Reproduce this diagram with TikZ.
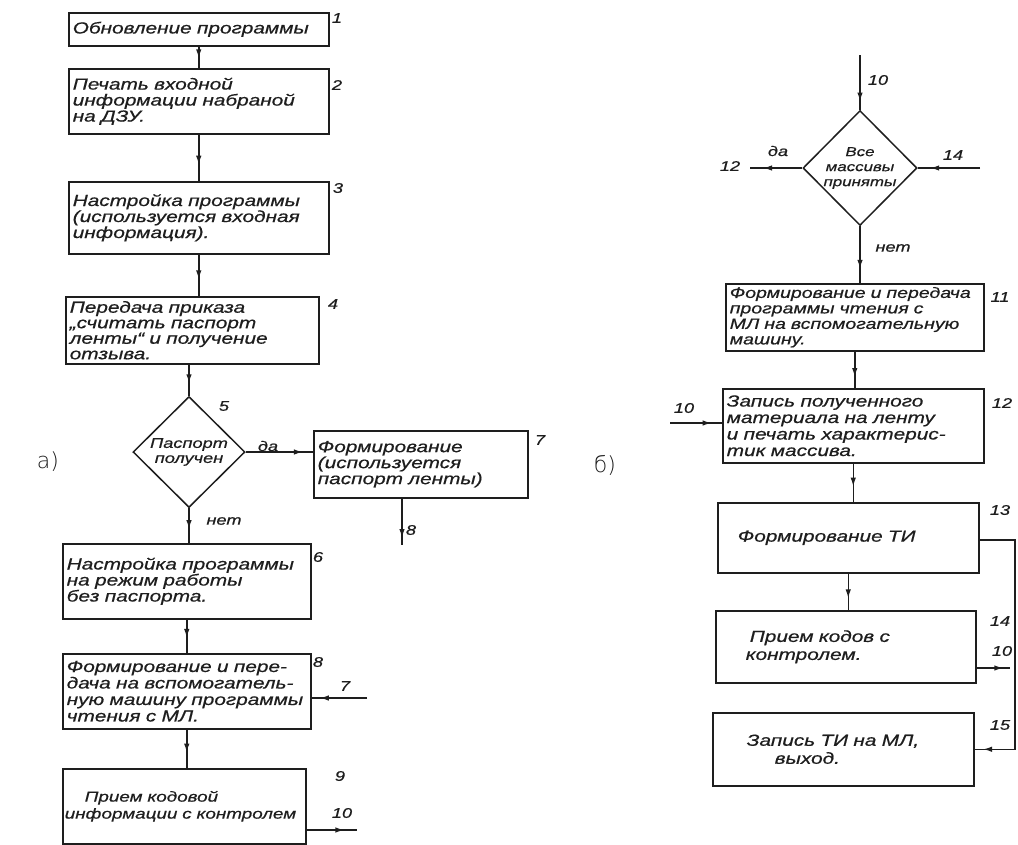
\documentclass[tikz,border=0pt]{standalone}
\usepackage{fontspec}
\newfontfamily\hw{Liberation Sans}[FakeStretch=1.3,FakeBold=0.6]
\newfontfamily\thin{DejaVu Sans ExtraLight}
\usetikzlibrary{shapes.geometric,arrows.meta,decorations.markings,calc}
\definecolor{ink}{HTML}{1E1E1E}
\tikzset{
  box/.style={draw=ink, text=ink, line width=1.5pt, anchor=north west, inner xsep=4pt, inner ysep=1pt,
    align=left, font=\hw\itshape\fontsize{16}{16}\selectfont},
  dia/.style={draw=ink, line width=1.5pt, diamond, inner sep=0pt},
  dtext/.style={text=ink, align=center, font=\hw\itshape\fontsize{14}{15}\selectfont},
  num/.style={text=ink, font=\hw\itshape\fontsize{14}{14}\selectfont, inner sep=0pt},
  con/.style={draw=ink, line width=1.5pt},
  ar/.style={postaction={decorate,decoration={markings,mark=at position #1 with {\arrow{Latex[length=9pt,width=5.5pt]}}}}},
  ar/.default=0.7,
}
\begin{document}
\begin{tikzpicture}[x=1pt,y=-1pt]
\useasboundingbox (0,0) rectangle (1018,844);
\fill[white] (0,0) rectangle (1018,844);

% ---------- left part a) ----------
\node[box, text width=252pt, minimum height=33pt] (b1) at (68,12) {Обновление программы};
\node[box, text width=252pt, minimum height=65pt] (b2) at (68,68) {Печать входной\\информации набраной\\на ДЗУ.};
\node[box, text width=252pt, minimum height=72pt] (b3) at (68,181) {Настройка программы\\(используется входная\\информация).};
\node[box, text width=245pt, minimum height=67pt, font=\hw\itshape\fontsize{16}{15.5}\selectfont] (b4) at (65,296) {Передача приказа\\„считать паспорт\\ленты“ и получение\\отзыва.};
\node[dia, minimum width=112pt, minimum height=111pt,
      label={[dtext]center:Паспорт\\получен}] (d5) at (189,452) {};
\node[box, text width=206pt, minimum height=67pt] (b7) at (313,430) {Формирование\\(используется\\паспорт ленты)};
\node[box, text width=240pt, minimum height=75pt] (b6) at (62,543) {Настройка программы\\на режим работы\\без паспорта.};
\node[box, text width=240pt, minimum height=75pt, font=\hw\itshape\fontsize{16}{16.5}\selectfont] (b8) at (62,653) {Формирование и пере-\\дача на вспомогатель-\\ную машину программы\\чтения с МЛ.};
\node[box, text width=239pt, inner xsep=2pt, minimum height=75pt, font=\hw\itshape\fontsize{14.5}{17}\selectfont] (b9) at (62,768) {\hspace*{20pt}Прием кодовой\\информации с контролем};

\draw[con,ar=0.55] (b1.south) -- (b1.south |- b2.north);
\draw[con,ar=0.65] (b2.south) -- (b2.south |- b3.north);
\draw[con,ar=0.6] (b3.south) -- (b3.south |- b4.north);
\draw[con,ar=0.6] (d5.north |- b4.south) -- (d5.north);
\draw[con,ar=0.85] (d5.east) -- (d5.east -| b7.west);
\draw[con,ar=0.6] (d5.south) -- (d5.south |- b6.north);
\draw[con,ar=0.55] (b6.south) -- (b6.south |- b8.north);
\draw[con,ar=0.6] (b8.south) -- (b8.south |- b9.north);
\coordinate (o7) at (402,545);
\draw[con,ar=0.85] (o7 |- b7.south) -- (o7);
\coordinate (i8) at (367,698);
\draw[con,ar=0.85] (i8) -- (i8 -| b8.east);
\coordinate (o9) at (357,830);
\draw[con,ar=0.75] (o9 -| b9.east) -- (o9);

\node[num] (n1) at (337,18) {1};
\node[num] (n2) at (337,85) {2};
\node[num] (n3) at (338,188) {3};
\node[num] (n4) at (333,304) {4};
\node[num] (n5) at (224,406) {5};
\node[num] (nda1) at (268,446) {да};
\node[num] (nnet1) at (224,521) {нет};
\node[num] (n7) at (540,440) {7};
\node[num] (n8a) at (411,530) {8};
\node[num] (n6) at (318,557) {6};
\node[num] (n8) at (318,662) {8};
\node[num] (n7b) at (345,686) {7};
\node[num] (n9) at (340,776) {9};
\node[num] (n10a) at (342,813) {10};
\node[text=ink, font=\thin\fontsize{22}{22}\selectfont] (la) at (48,462) {а)};

% ---------- right part б) ----------
\node[dia, minimum width=114pt, minimum height=115pt,
      label={[dtext,font=\hw\itshape\fontsize{13}{15}\selectfont]center:Все\\массивы\\приняты}] (d10) at (860,168) {};
\node[box, text width=250pt, minimum height=67pt, font=\hw\itshape\fontsize{15}{15.5}\selectfont] (b11) at (725,283) {Формирование и передача\\программы чтения с\\МЛ на вспомогательную\\машину.};
\node[box, text width=253pt, minimum height=74pt, font=\hw\itshape\fontsize{16}{16.5}\selectfont] (b12) at (722,388) {Запись полученного\\материала на ленту\\и печать характерис-\\тик массива.};
\node[box, text width=253pt, minimum height=70pt] (b13) at (717,502) {\hspace*{16pt}Формирование ТИ};
\node[box, text width=252pt, minimum height=72pt, font=\hw\itshape\fontsize{16}{18}\selectfont] (b14) at (715,610) {\hspace*{30pt}Прием кодов с\\\hspace*{26pt}контролем.};
\node[box, text width=253pt, minimum height=73pt, font=\hw\itshape\fontsize{16}{18}\selectfont] (b15) at (712,712) {\hspace*{30pt}Запись ТИ на МЛ,\\\hspace*{58pt}выход.};

\coordinate (i10) at (862,55);
\draw[con,ar=0.85] (i10 -| d10.north) -- (d10.north);
\coordinate (o12) at (750,165);
\draw[con,ar=0.75] (d10.west) -- (o12 |- d10.west);
\coordinate (i14) at (980,168);
\draw[con,ar=0.8] (i14) -- (d10.east);
\draw[con,ar=0.75] (d10.south) -- (d10.south |- b11.north);
\draw[con,ar=0.7] (b11.south) -- (b11.south |- b12.north);
\coordinate (i12) at (670,423);
\draw[con,ar=0.8] (i12) -- (i12 -| b12.west);
\draw[con,ar=0.6] (b12.south) -- (b12.south |- b13.north);
\draw[con,ar=0.68] (b13.south) -- (b13.south |- b14.north);
\coordinate (o14) at (1010,668);
\draw[con,ar=0.8] (o14 -| b14.east) -- (o14);
\coordinate (r1) at (1015,540);
\draw[con,ar=0.97] (r1 -| b13.east) -- (r1) -- (r1 |- b15.east) -- (b15.east);

\node[num] (n10b) at (878,80) {10};
\node[num] (nda2) at (778,151) {да};
\node[num] (n12a) at (730,166) {12};
\node[num] (n14a) at (953,155) {14};
\node[num] (nnet2) at (893,248) {нет};
\node[num] (n11) at (1000,297) {11};
\node[num] (n12) at (1002,403) {12};
\node[num] (n10c) at (684,408) {10};
\node[num] (n13) at (1000,510) {13};
\node[num] (n14) at (1000,621) {14};
\node[num] (n10d) at (1002,651) {10};
\node[num] (n15) at (1000,725) {15};
\node[text=ink, font=\thin\fontsize{22}{22}\selectfont] (lb) at (605,465) {б)};
\end{tikzpicture}
\end{document}
